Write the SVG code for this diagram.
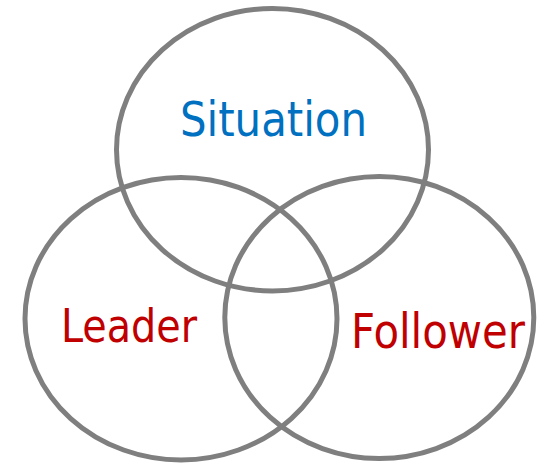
<svg xmlns="http://www.w3.org/2000/svg" width="546" height="464" viewBox="0 0 546 464">
<style>
.ring{fill:none;stroke:#7f7f7f;stroke-width:5}
.lbl{font-family:"DejaVu Sans Condensed","DejaVu Sans",sans-serif;font-size:48px}
.blue{fill:#0070C0}
.red{fill:#C00000}
</style>
<rect width="546" height="464" fill="#ffffff"/>
<g id="situation">
<ellipse class="ring" cx="272.5" cy="149.7" rx="156" ry="141.2"/>
<text class="lbl blue" x="180" y="135.7" textLength="187" lengthAdjust="spacingAndGlyphs">Situation</text>
</g>
<g id="leader">
<ellipse class="ring" cx="181" cy="318.7" rx="156" ry="141.2"/>
<text class="lbl red" x="61" y="341.7" style="font-size:46px" textLength="136" lengthAdjust="spacingAndGlyphs">Leader</text>
</g>
<g id="follower">
<ellipse class="ring" cx="379.3" cy="317.5" rx="154.5" ry="141"/>
<text class="lbl red" x="351" y="348.3" textLength="174" lengthAdjust="spacingAndGlyphs">Follower</text>
</g>
<g id="connectors"/>
</svg>
